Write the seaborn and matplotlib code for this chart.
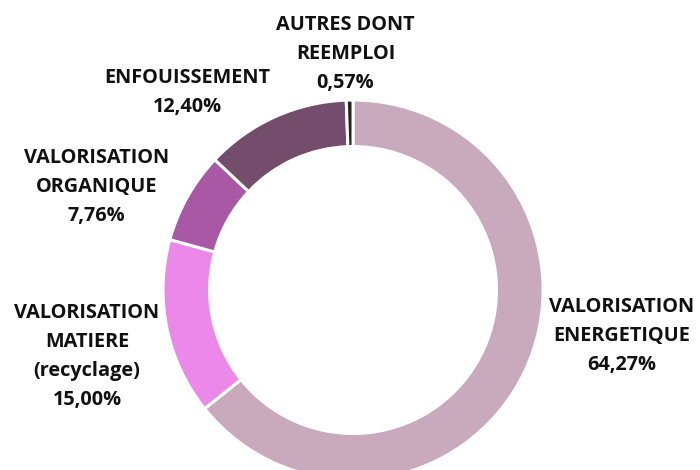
import matplotlib
matplotlib.use("Agg")
import matplotlib.pyplot as plt
import seaborn as sns

categories = ["VALORISATION\nENERGETIQUE", "VALORISATION\nMATIERE\n(recyclage)",
              "VALORISATION\nORGANIQUE", "ENFOUISSEMENT", "AUTRES DONT\nREEMPLOI"]
values = [64.27, 15.00, 7.76, 12.40, 0.57]
value_labels = ["64,27%", "15,00%", "7,76%", "12,40%", "0,57%"]
colors = ["#C9A9BC", "#EC88EA", "#A858A5", "#734D6B", "#232323"]

sns.set_theme(style="white")
plt.rcParams['font.family'] = ['Open Sans', 'DejaVu Sans']

fig = plt.figure(figsize=(7, 4.7), dpi=100)
ax = fig.add_axes([0, 0, 1, 1])

wedges, _ = ax.pie(values, colors=colors, startangle=90, counterclock=False,
                   radius=1.0, wedgeprops=dict(width=0.245, edgecolor="white", linewidth=2.2))

# label positions (in radius units, center of donut at 0,0)
label_pos = [(1.415, -0.24), (-1.40, -0.35), (-1.35, 0.54), (-0.87, 1.04), (-0.04, 1.24)]
for cat, lab, (x, y) in zip(categories, value_labels, label_pos):
    ax.text(x, y, cat + "\n" + lab, ha="center", va="center", fontsize=14.3,
            fontweight="bold", linespacing=1.6, color="#111111")

ax.set_xlim(-1.858, 1.826)
ax.set_ylim(-0.947, 1.526)
ax.set_aspect("equal")
ax.axis("off")

fig.savefig("out.png", dpi=100)
